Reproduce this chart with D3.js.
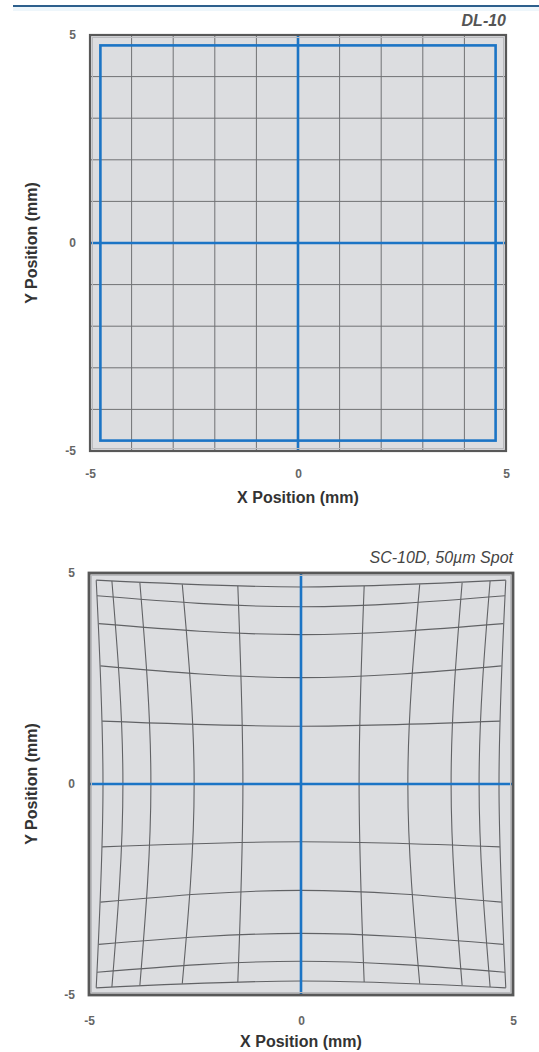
<!DOCTYPE html>
<html>
<head>
<meta charset="utf-8">
<script src="https://cdn.jsdelivr.net/npm/d3@7"></script>
<style>
  html, body { margin: 0; padding: 0; background: #ffffff; }
  svg { display: block; }
  text { font-family: "Liberation Sans", Arial, Helvetica, sans-serif; }
</style>
</head>
<body>
<svg id="chart" width="539" height="1052"></svg>
<script>
// ---------- data ----------
const axisTicks = [-5, 0, 5];
const axisDomain = [-5, 5];
const chartTitles = ["DL-10", "SC-10D, 50µm Spot"];
const xTitle = "X Position (mm)";
const yTitle = "Y Position (mm)";

// DL-10: regular grid lines (mm) and blue field square half-size (mm)
const dlGrid = [-4, -3, -2, -1, 1, 2, 3, 4];
const dlSquare = [4.75];
const dlAxes = [0];

// SC-10D: distorted grid (mm, positive side; mirrored)
const scCenter = [1.37, 2.52, 3.54, 4.20, 4.67]; // line position on the axis
const scEnd    = [1.49, 2.80, 3.80, 4.46, 4.83]; // line position at its ends
const scReach  = [4.69, 4.73, 4.77, 4.81, 4.83]; // how far the line runs
const scAxes = [0];

// ---------- drawing ----------
const svg = d3.select("#chart");
const blue = "#1b74c5";

// top rule
svg.append("line").attr("x1", 13).attr("x2", 539).attr("y1", 6).attr("y2", 6)
  .attr("stroke", "#2d5f8c").attr("stroke-width", 2);
svg.append("rect").attr("x", 13).attr("y", 7).attr("width", 526).attr("height", 4)
  .attr("fill", "#eef6fb");

function frame(cfg) {
  const x = d3.scaleLinear().domain(axisDomain).range([cfg.left, cfg.right]);
  const y = d3.scaleLinear().domain(axisDomain).range([cfg.bottom, cfg.top]);
  const g = svg.append("g");
  g.append("rect")
    .attr("x", x(-5)).attr("y", y(5))
    .attr("width", x(5) - x(-5)).attr("height", y(-5) - y(5))
    .attr("fill", "#dcdde0");
  return { x, y, g };
}

function finish(f, cfg, title, titleBold, titleY) {
  const { x, y, g } = f;
  // border
  g.append("rect")
    .attr("x", x(-5) + 2.5).attr("y", y(5) + 2.5)
    .attr("width", x(5) - x(-5) - 5).attr("height", y(-5) - y(5) - 5)
    .attr("fill", "none").attr("stroke", "#b9babd").attr("stroke-width", 1);
  g.append("rect")
    .attr("x", x(-5)).attr("y", y(5))
    .attr("width", x(5) - x(-5)).attr("height", y(-5) - y(5))
    .attr("fill", "none").attr("stroke", "#585858").attr("stroke-width", cfg.border);

  // axes
  const ax = g.append("g").attr("transform", `translate(0,${y(-5)})`)
    .call(d3.axisBottom(x).tickValues(axisTicks).tickSize(0).tickPadding(cfg.xPad)
      .tickFormat(d => String(d)));
  const ay = g.append("g").attr("transform", `translate(${x(-5)},0)`)
    .call(d3.axisLeft(y).tickValues(axisTicks).tickSize(0).tickPadding(14)
      .tickFormat(d => String(d)));
  [ax, ay].forEach(a => {
    a.select(".domain").remove();
    a.selectAll("text").attr("font-size", 12).attr("font-weight", "bold")
      .attr("fill", "#666").attr("font-family", '"Liberation Sans", Arial, sans-serif');
  });

  g.append("text").attr("x", x(0)).attr("y", cfg.xTitleY)
    .attr("text-anchor", "middle").attr("font-size", 16).attr("font-weight", "bold")
    .attr("fill", "#333").text(xTitle);
  g.append("text")
    .attr("transform", `translate(37,${y(0)}) rotate(-90)`)
    .attr("text-anchor", "middle").attr("font-size", 16).attr("font-weight", "bold")
    .attr("fill", "#333").text(yTitle);

  g.append("text").attr("x", x(5)).attr("y", titleY)
    .attr("text-anchor", "end").attr("font-size", 16)
    .attr("font-style", "italic").attr("font-weight", titleBold ? "bold" : "normal")
    .attr("fill", titleBold ? "#555" : "#444").text(title);
}

// ----- chart 1: DL-10 -----
const c1 = { left: 90, right: 506, top: 35, bottom: 451, xPad: 18, xTitleY: 503, border: 2.2 };
const f1 = frame(c1);
{
  const { x, y, g } = f1;
  g.selectAll(".v1").data(dlGrid).join("line")
    .attr("x1", d => x(d)).attr("x2", d => x(d)).attr("y1", y(5)).attr("y2", y(-5))
    .attr("stroke", "#707174").attr("stroke-width", 1);
  g.selectAll(".h1").data(dlGrid).join("line")
    .attr("y1", d => y(d)).attr("y2", d => y(d)).attr("x1", x(-5)).attr("x2", x(5))
    .attr("stroke", "#707174").attr("stroke-width", 1);
  g.selectAll(".sq").data(dlSquare).join("rect")
    .attr("x", d => x(-d)).attr("y", d => y(d))
    .attr("width", d => x(d) - x(-d)).attr("height", d => y(-d) - y(d))
    .attr("fill", "none").attr("stroke", blue).attr("stroke-width", 2.6);
  g.selectAll(".av").data(dlAxes).join("line")
    .attr("x1", d => x(d)).attr("x2", d => x(d)).attr("y1", y(5)).attr("y2", y(-5))
    .attr("stroke", blue).attr("stroke-width", 2.6);
  g.selectAll(".ah").data(dlAxes).join("line")
    .attr("y1", d => y(d)).attr("y2", d => y(d)).attr("x1", x(-5)).attr("x2", x(5))
    .attr("stroke", blue).attr("stroke-width", 2.6);
}
finish(f1, c1, chartTitles[0], true, 26);

// ----- chart 2: SC-10D -----
const c2 = { left: 89, right: 513, top: 573, bottom: 995, xPad: 21, xTitleY: 1047, border: 2.8 };
const f2 = frame(c2);
{
  const { x, y, g } = f2;
  const line = d3.line().x(p => x(p[0])).y(p => y(p[1])).curve(d3.curveNatural);
  const lines = [];
  scCenter.forEach((c, i) => {
    const e = scEnd[i], r = scReach[i];
    [-1, 1].forEach(s => {
      lines.push([[s * e, -r], [s * c, 0], [s * e, r]]);   // vertical
      lines.push([[-r, s * e], [0, s * c], [r, s * e]]);   // horizontal
    });
  });
  g.selectAll(".grid2").data(lines).join("path")
    .attr("d", line).attr("fill", "none")
    .attr("stroke", "#616265").attr("stroke-width", 1.1);
  g.selectAll(".av2").data(scAxes).join("line")
    .attr("x1", d => x(d)).attr("x2", d => x(d)).attr("y1", y(5)).attr("y2", y(-5))
    .attr("stroke", blue).attr("stroke-width", 2.6);
  g.selectAll(".ah2").data(scAxes).join("line")
    .attr("y1", d => y(d)).attr("y2", d => y(d)).attr("x1", x(-5)).attr("x2", x(5))
    .attr("stroke", blue).attr("stroke-width", 2.6);
}
finish(f2, c2, chartTitles[1], false, 563);
</script>
</body>
</html>
